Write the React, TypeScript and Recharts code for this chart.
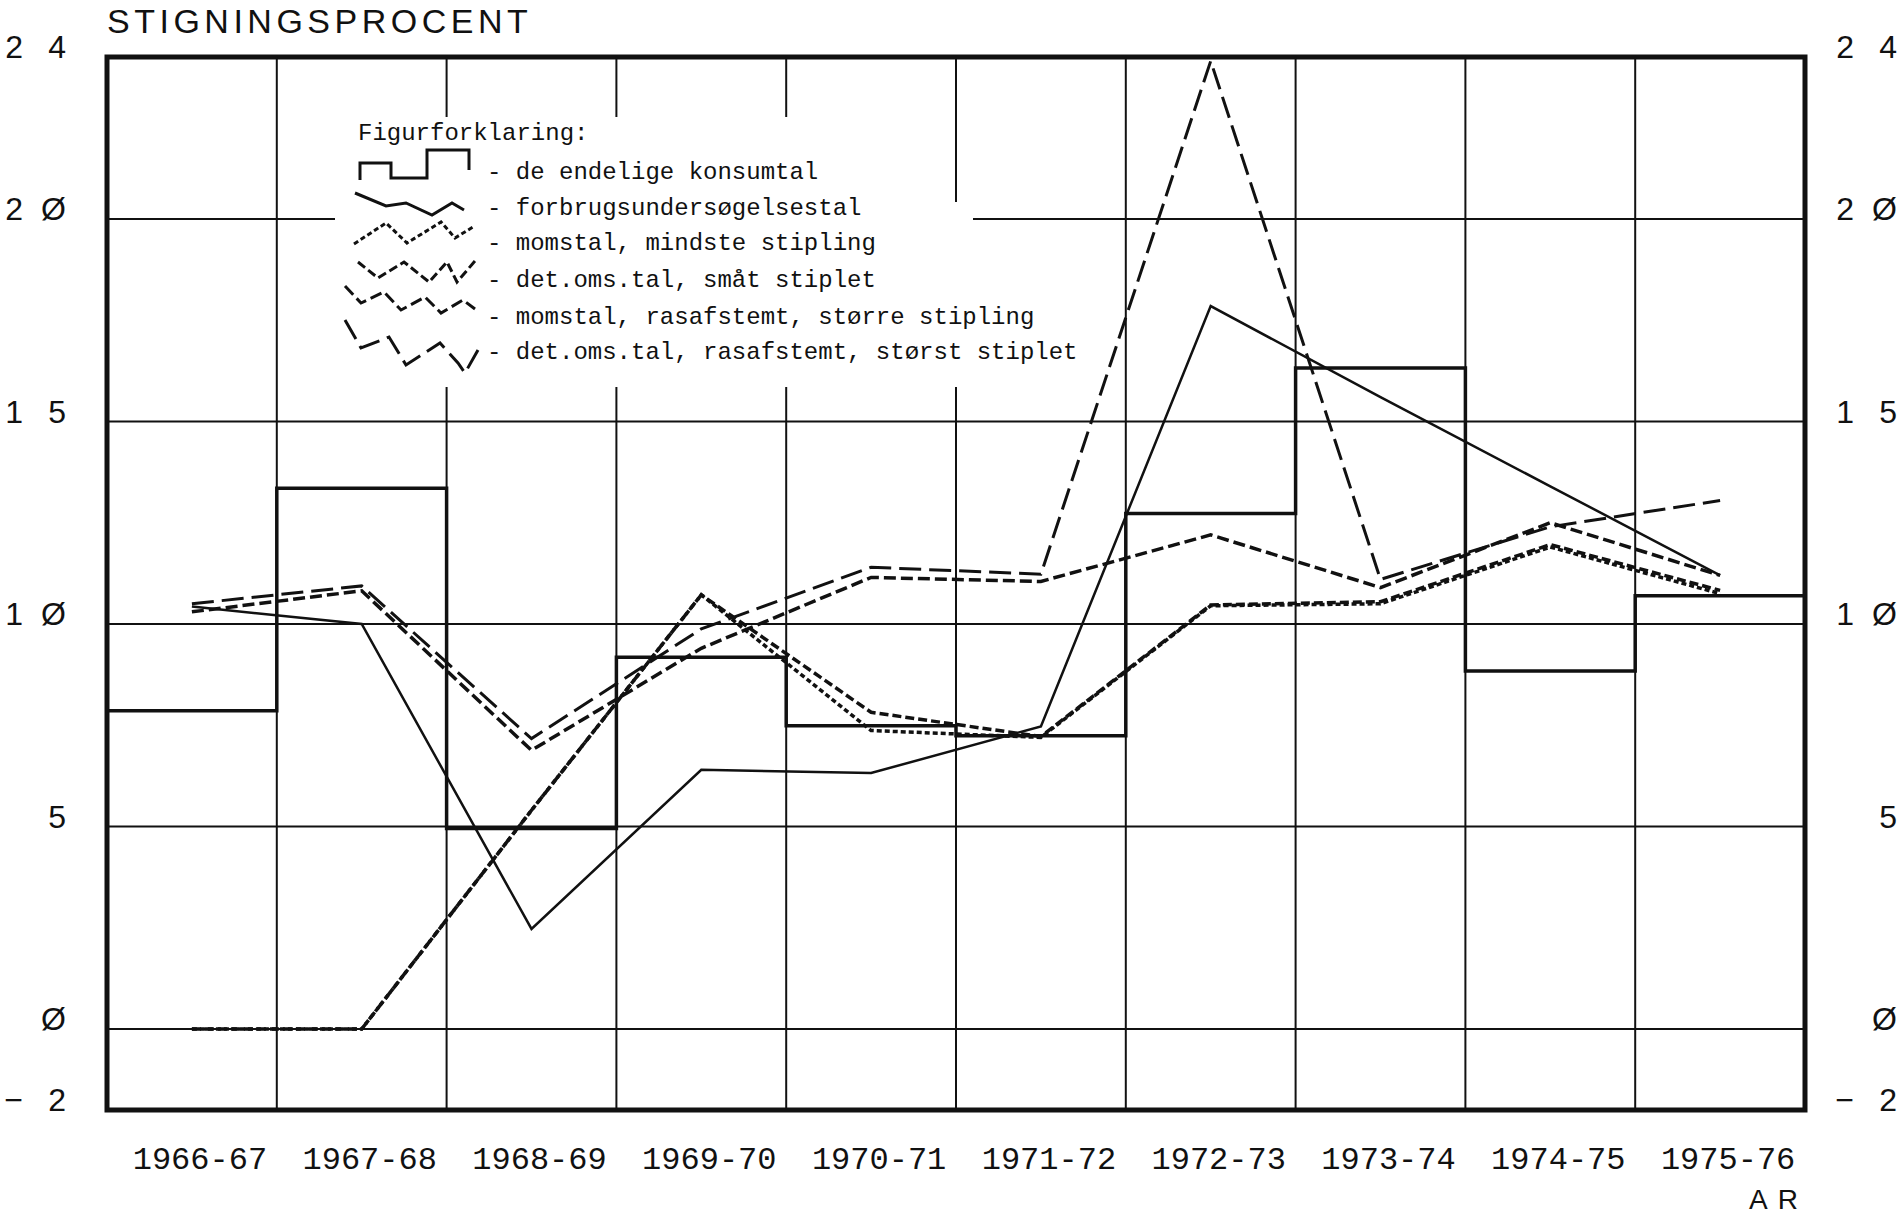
import { LineChart, Line, XAxis, YAxis, ReferenceLine, ReferenceArea } from "recharts";

const categories = ["1966-67", "1967-68", "1968-69", "1969-70", "1970-71", "1971-72", "1972-73", "1973-74", "1974-75", "1975-76"];

// stigningsprocent per år
const konsumtal = [7.86, 13.35, 4.95, 9.18, 7.49, 7.24, 12.73, 16.32, 8.84, 10.7];
const forbrugsundersoegelse = [10.43, 10.0, 2.47, 6.4, 6.32, 7.47, 17.85, 15.6, 13.4, 11.2];
const momstal = [0, 0, 5.4, 10.72, 7.37, 7.2, 10.45, 10.5, 11.9, 10.75];
const detOmsTal = [0, 0, 5.4, 10.72, 7.82, 7.22, 10.47, 10.55, 11.96, 10.83];
const momstalRas = [10.3, 10.82, 6.88, 9.4, 11.15, 11.05, 12.2, 10.9, 12.5, 11.2];
const detOmsTalRas = [10.5, 10.94, 7.17, 9.88, 11.4, 11.23, 23.9, 11.1, 12.4, 13.05];

const yTicks = [-2, 0, 5, 10, 15, 20, 24];
const gridValues = [0, 5, 10, 15, 20];

const INK = "#111";
const SANS = "'Liberation Sans', Arial, sans-serif";
const MONO = "'Liberation Mono', 'Courier New', monospace";

// points sit in the middle of each year column
const toPoints = (vals: number[]) => vals.map((v, i) => ({ x: i + 0.5, y: v }));
// the step outline runs edge to edge of each column
const stepPoints = [...konsumtal.map((v, i) => ({ x: i, y: v })), { x: konsumtal.length, y: konsumtal[konsumtal.length - 1] }];
const columnEdges = categories.slice(1).map((_, i) => i + 1);
const xTicks = categories.map((_, i) => i + 0.5);

const styles = {
  konsum: { stroke: INK, strokeWidth: 3.5 },
  forbrug: { stroke: INK, strokeWidth: 2.5 },
  moms: { stroke: INK, strokeWidth: 3.5, strokeDasharray: "5 3" },
  detOms: { stroke: INK, strokeWidth: 3.5, strokeDasharray: "9 4" },
  momsRas: { stroke: INK, strokeWidth: 3.5, strokeDasharray: "12 5" },
  detOmsRas: { stroke: INK, strokeWidth: 3, strokeDasharray: "22 8" },
};

const fmtTick = (v: number) =>
  v < 0 ? ["\u2212", String(-v)] : String(v).split("").map((c) => (c === "0" ? "\u00D8" : c));

const YTick = (props: any) => {
  const { x, y, payload, side } = props;
  const chars = fmtTick(payload.value);
  const xEnd = side === "l" ? x - 41 : x + 92;
  const cy = y - 10;
  return (
    <g>
      {chars.map((c: string, i: number) => (
        <text
          key={i}
          x={xEnd - (chars.length - 1 - i) * 43}
          y={cy}
          textAnchor="end"
          dominantBaseline="central"
          fontFamily={SANS}
          fontSize={32}
          fill={INK}
        >
          {c}
        </text>
      ))}
    </g>
  );
};

const XTick = (props: any) => {
  const { x, y, payload } = props;
  return (
    <text x={x + 8} y={y + 50} textAnchor="middle" dominantBaseline="central" fontFamily={MONO} fontSize={32} fill={INK}>
      {categories[Math.floor(payload.value)]}
    </text>
  );
};

const legendRows = [
  { label: "de endelige konsumtal", s: styles.konsum, pts: "25,63 25,46 56,46 56,61 92,61 92,33 134,33 134,53" },
  { label: "forbrugsundersøgelsestal", s: styles.forbrug, pts: "20,76 51,89 71,86 97,98 117,86 129,93" },
  { label: "momstal, mindste stipling", s: styles.moms, pts: "19,127 51,106 72,126 106,105 120,121 138,110" },
  { label: "det.oms.tal, småt stiplet", s: styles.detOms, pts: "23,145 43,161 69,145 94,165 112,145 122,165 140,144" },
  { label: "momstal, rasafstemt, større stipling", s: styles.momsRas, pts: "10,169 26,186 49,175 66,193 90,180 106,196 128,183 140,192" },
  { label: "det.oms.tal, rasafstemt, størst stiplet", s: styles.detOmsRas, pts: "10,203 26,231 54,220 71,248 105,226 123,246 130,256 143,233" },
];
const rowY = [55, 91, 126, 163, 200, 235];

const FigurLegend = () => (
  <div
    style={{
      position: "absolute",
      left: 335,
      top: 117,
      width: 760,
      height: 270,
      background: "#fff",
      clipPath: "polygon(0 0, 617px 0, 617px 85px, 638px 85px, 638px 108px, 760px 108px, 760px 270px, 0 270px)",
    }}
  >
    <svg width={760} height={270}>
      <text x={23} y={16} dominantBaseline="central" fontFamily={MONO} fontSize={24} fill={INK}>
        Figurforklaring:
      </text>
      {legendRows.map((r, i) => (
        <g key={r.label}>
          <polyline points={r.pts} fill="none" {...r.s} strokeWidth={3} />
          <text x={152} y={rowY[i]} dominantBaseline="central" fontFamily={MONO} fontSize={24} fill={INK} style={{ whiteSpace: "pre" }}>
            {"- " + r.label}
          </text>
        </g>
      ))}
    </svg>
  </div>
);

const App = () => (
  <div style={{ position: "absolute", left: 0, top: 0, width: 1904, height: 1219, background: "#fff", overflow: "hidden" }}>
    <LineChart width={1904} height={1219} margin={{ top: 57, right: 0, bottom: 49, left: 7 }}>
      <XAxis
        type="number"
        dataKey="x"
        domain={[0, categories.length]}
        ticks={xTicks}
        interval={0}
        tickSize={0}
        tickMargin={0}
        tickLine={false}
        axisLine={false}
        height={60}
        tick={<XTick />}
      />
      <YAxis
        yAxisId="l"
        domain={[-2, 24]}
        ticks={yTicks}
        interval={0}
        width={100}
        tickSize={0}
        tickMargin={0}
        tickLine={false}
        axisLine={false}
        tick={<YTick side="l" />}
      />
      <YAxis
        yAxisId="r"
        orientation="right"
        domain={[-2, 24]}
        ticks={yTicks}
        interval={0}
        width={99}
        tickSize={0}
        tickMargin={0}
        tickLine={false}
        axisLine={false}
        tick={<YTick side="r" />}
      />
      {gridValues.map((v) => (
        <ReferenceLine key={"h" + v} yAxisId="l" y={v} stroke={INK} strokeWidth={2} />
      ))}
      {columnEdges.map((v) => (
        <ReferenceLine key={"v" + v} yAxisId="l" x={v} stroke={INK} strokeWidth={2} />
      ))}
      <ReferenceArea yAxisId="l" x1={0} x2={categories.length} y1={-2} y2={24} fill="none" fillOpacity={0} stroke={INK} strokeWidth={5} />

      {/* the step outline is read against the right-hand scale (identical to the left) */}
      <Line yAxisId="r" data={stepPoints} dataKey="y" type="stepAfter" {...styles.konsum} dot={false} activeDot={false} isAnimationActive={false} />
      <Line yAxisId="l" data={toPoints(forbrugsundersoegelse)} dataKey="y" type="linear" {...styles.forbrug} dot={false} activeDot={false} isAnimationActive={false} />
      <Line yAxisId="l" data={toPoints(momstal)} dataKey="y" type="linear" {...styles.moms} dot={false} activeDot={false} isAnimationActive={false} />
      <Line yAxisId="l" data={toPoints(detOmsTal)} dataKey="y" type="linear" {...styles.detOms} dot={false} activeDot={false} isAnimationActive={false} />
      <Line yAxisId="l" data={toPoints(momstalRas)} dataKey="y" type="linear" {...styles.momsRas} dot={false} activeDot={false} isAnimationActive={false} />
      <Line yAxisId="l" data={toPoints(detOmsTalRas)} dataKey="y" type="linear" {...styles.detOmsRas} dot={false} activeDot={false} isAnimationActive={false} />
    </LineChart>

    <div style={{ position: "absolute", left: 107, top: 4, fontFamily: SANS, fontSize: 34, lineHeight: "34px", letterSpacing: 4.5, color: INK, whiteSpace: "nowrap" }}>
      STIGNINGSPROCENT
    </div>
    <div style={{ position: "absolute", left: 1749, top: 1186, fontFamily: SANS, fontSize: 28, lineHeight: "28px", letterSpacing: 10, color: INK, whiteSpace: "nowrap" }}>
      AR
    </div>
    <FigurLegend />
  </div>
);

export default App;
